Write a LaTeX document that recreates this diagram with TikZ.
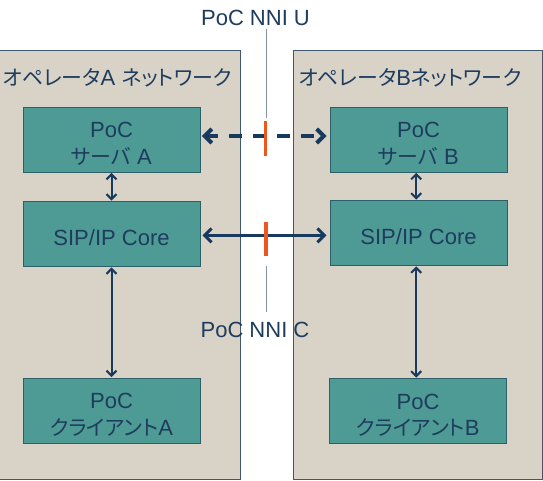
\documentclass[tikz,border=0pt]{standalone}
\usepackage{fontspec}
\setmainfont{Liberation Sans}
\newfontfamily\jp{Noto Sans CJK JP}[RawFeature=+palt,Scale=0.95]
\usetikzlibrary{arrows.meta,calc}
\definecolor{beige}{HTML}{D9D3C7}
\definecolor{slate}{HTML}{3F5872}
\definecolor{teal2}{HTML}{4E9A94}
\definecolor{tealedge}{HTML}{2C5F68}
\definecolor{navy}{HTML}{1E3D5E}
\definecolor{arrownavy}{HTML}{173A5E}
\definecolor{orng}{HTML}{EE5620}
\definecolor{grayln}{HTML}{8394A6}
\tikzset{
  outerbox/.style={draw=slate, fill=beige, line width=0.9pt, inner sep=0pt},
  innerbox/.style={draw=tealedge, fill=teal2, line width=0.9pt, minimum width=177pt, minimum height=65pt, inner sep=0pt},
  boxtext/.style={text=navy, align=center, inner sep=0pt, font=\fontsize{22}{26.5}\selectfont},
  headtext/.style={text=navy, font=\fontsize{22}{26}\selectfont, inner sep=0pt},
  lbltext/.style={text=navy, font=\fontsize{22}{26}\selectfont, inner sep=0pt},
  varrow/.style={draw=arrownavy, line width=2pt, {Straight Barb[length=5pt,width=10pt]}-{Straight Barb[length=5pt,width=10pt]}},
  harrow/.style={draw=arrownavy, line width=3pt, {Straight Barb[length=7pt,width=14pt]}-{Straight Barb[length=7pt,width=14pt]}},
  dharrow/.style={draw=arrownavy, line width=4pt, dash pattern=on 13pt off 11pt, dash phase=2pt, {Straight Barb[length=7pt,width=14pt]}-{Straight Barb[length=7pt,width=14pt]}},
  tick/.style={draw=orng, line width=3.5pt},
  guide/.style={draw=grayln, line width=1pt}
}
\begin{document}
\begin{tikzpicture}[x=1pt,y=-1pt]
\useasboundingbox (0,0) rectangle (543,481);
\fill[white] (0,0) rectangle (543,481);
% outer network boxes
\node[outerbox, minimum width=242pt, minimum height=429.5pt] (netA) at (119.7,264.8) {};
\node[outerbox, minimum width=248.4pt, minimum height=429pt] (netB) at (417.8,264.5) {};
\node[headtext] (headA) at (117.5,78) {{\jp オペレータ}A {\jp ネットワーク}};
\node[headtext] (headB) at (410,78) {{\jp オペレータ}B{\jp ネットワーク}};
% inner boxes
\node[innerbox] (srvA) at (111.5,139.5) {};
\node[innerbox] (sipA) at (111.5,234) {};
\node[innerbox] (cliA) at (111.5,410.5) {};
\node[innerbox] (srvB) at (418.5,139.5) {};
\node[innerbox] (sipB) at (418.5,233) {};
\node[innerbox] (cliB) at (418,411) {};
% box texts
\node[boxtext] (srvAt) at ($(srvA.center)+(0,4.5)$) {PoC\\{\jp サーバ} A};
\node[boxtext] (sipAt) at ($(sipA.center)+(0,3.5)$) {SIP/IP Core};
\node[boxtext] (cliAt) at ($(cliA.center)+(0,4.5)$) {PoC\\{\jp クライアント}A};
\node[boxtext] (srvBt) at ($(srvB.center)+(0,4.5)$) {PoC\\{\jp サーバ} B};
\node[boxtext] (sipBt) at ($(sipB.center)+(0,3.5)$) {SIP/IP Core};
\node[boxtext] (cliBt) at ($(cliB.center)+(0,4.5)$) {PoC\\{\jp クライアント}B};
% vertical connectors
\draw[varrow] ($(srvA.south)+(0,0.5)$) -- ($(sipA.north)+(0,-0.5)$);
\draw[varrow] ($(sipA.south)+(0,0.5)$) -- ($(cliA.north)+(0,-0.5)$);
\draw[varrow] ($(srvB.south)+(-2.3,0.5)$) -- ($(sipB.north)+(-2.3,-0.5)$);
\draw[varrow] ($(sipB.south)+(-2.3,0.5)$) -- ($(cliB.north)+(-1.8,-0.5)$);
% horizontal connectors
\draw[dharrow] ($(srvA.east)+(1.5,-3.5)$) -- ($(srvB.west)+(-3,-3.5)$);
\draw[harrow] ($(sipA.east)+(2,1.4)$) -- ($(sipB.west)+(-3,2.4)$);
% labels and reference points
\node[lbltext] (nniU) at (255.5,18) {PoC NNI U};
\node[lbltext] (nniC) at (255,330) {PoC NNI C};
\coordinate (uTop) at (266,29.5);
\coordinate (uBot) at (266,117.7);
\coordinate (cTop) at (266,266);
\coordinate (cBot) at (266,311.6);
\draw[guide] (uTop) -- (uBot);
\draw[guide] (cTop) -- (cBot);
\coordinate (tU1) at (265.5,121);
\coordinate (tU2) at (265.5,156.5);
\coordinate (tC1) at (266,221.5);
\coordinate (tC2) at (266,255.5);
\draw[tick] (tU1) -- (tU2);
\draw[tick] (tC1) -- (tC2);
\end{tikzpicture}
\end{document}
